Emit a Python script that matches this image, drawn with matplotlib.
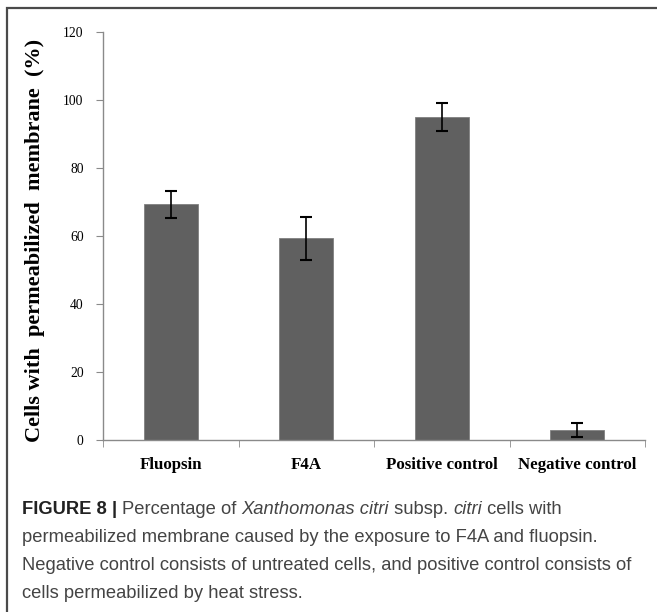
import matplotlib
matplotlib.use("Agg")
import matplotlib.pyplot as plt
from matplotlib.patches import Rectangle

categories = ["Fluopsin", "F4A", "Positive control", "Negative control"]
values = [69.3, 59.3, 95.0, 3.0]
errors = [4.0, 6.4, 4.1, 2.0]
yticks = [0, 20, 40, 60, 80, 100, 120]
ylabel = "Cells with  permeabilized  membrane  (%)"

W, H = 657, 612
fig = plt.figure(figsize=(W / 100, H / 100), dpi=100)

# outer frame (left and top visible)
fig.patches.append(Rectangle((7 / W, -0.1), 1.2, (H - 8) / H + 0.1, transform=fig.transFigure,
                             fill=False, edgecolor="#4a4a4a", linewidth=1.6))

ax = fig.add_axes([103 / W, (H - 440) / H, 542 / W, 408 / H])
x = list(range(len(categories)))
ax.bar(x, values, width=0.4, color="#606060", edgecolor="#808080", linewidth=0.6, zorder=2)
ax.errorbar(x, values, yerr=errors, fmt="none", ecolor="black", elinewidth=1.2,
            capsize=4, capthick=1.5, zorder=3)

ax.set_xlim(-0.5, len(categories) - 0.5)
ax.set_ylim(0, 120)
for s in ["top", "right"]:
    ax.spines[s].set_visible(False)
for s in ["left", "bottom"]:
    ax.spines[s].set_color("#8a8a8a")
    ax.spines[s].set_linewidth(1.0)

ax.set_yticks(yticks)
ax.set_yticklabels([str(t) for t in yticks], fontfamily="Liberation Serif", fontsize=9.8)
ax.tick_params(axis="y", direction="out", length=5, color="#8a8a8a", pad=9)

ax.set_xticks(x)
ax.set_xticklabels(categories, fontfamily="Liberation Serif", fontweight="bold", fontsize=12.2)
ax.set_xticks([i - 0.5 for i in range(len(categories) + 1)], minor=True)
ax.tick_params(axis="x", which="major", length=0, pad=12)
ax.tick_params(axis="x", which="minor", direction="out", length=5, color="#8a8a8a")

fig.text(35 / W, (H - 240) / H, ylabel, rotation=90, ha="center", va="center",
         fontfamily="Liberation Serif", fontweight="bold", fontsize=16)

# caption
fig.canvas.draw()
renderer = fig.canvas.get_renderer()
cap_font = "Liberation Sans"
probe = fig.text(0, 0, "Negative control consists of untreated cells, and positive control consists of",
                 fontfamily=cap_font, fontsize=11)
wpx = probe.get_window_extent(renderer).width
probe.remove()
fs = 11 * 608 / wpx

x0 = 22
line_y = [510, 538, 566, 594]
pieces = [("FIGURE 8 | ", "bold", "normal", "#222222"),
          ("Percentage of ", "normal", "normal", "#444444"),
          ("Xanthomonas citri", "normal", "italic", "#444444"),
          (" subsp. ", "normal", "normal", "#444444"),
          ("citri", "normal", "italic", "#444444"),
          (" cells with", "normal", "normal", "#444444")]
cx = x0
for txt, wt, st, col in pieces:
    t = fig.text(cx / W, (H - line_y[0]) / H, txt, fontfamily=cap_font, fontsize=fs,
                 fontweight=wt, fontstyle=st, color=col, va="center", ha="left")
    cx += t.get_window_extent(renderer).width

rest = ["permeabilized membrane caused by the exposure to F4A and fluopsin.",
        "Negative control consists of untreated cells, and positive control consists of",
        "cells permeabilized by heat stress."]
for yy, txt in zip(line_y[1:], rest):
    fig.text(x0 / W, (H - yy) / H, txt, fontfamily=cap_font, fontsize=fs, color="#444444",
             va="center", ha="left")

fig.savefig("out.png", dpi=100)
